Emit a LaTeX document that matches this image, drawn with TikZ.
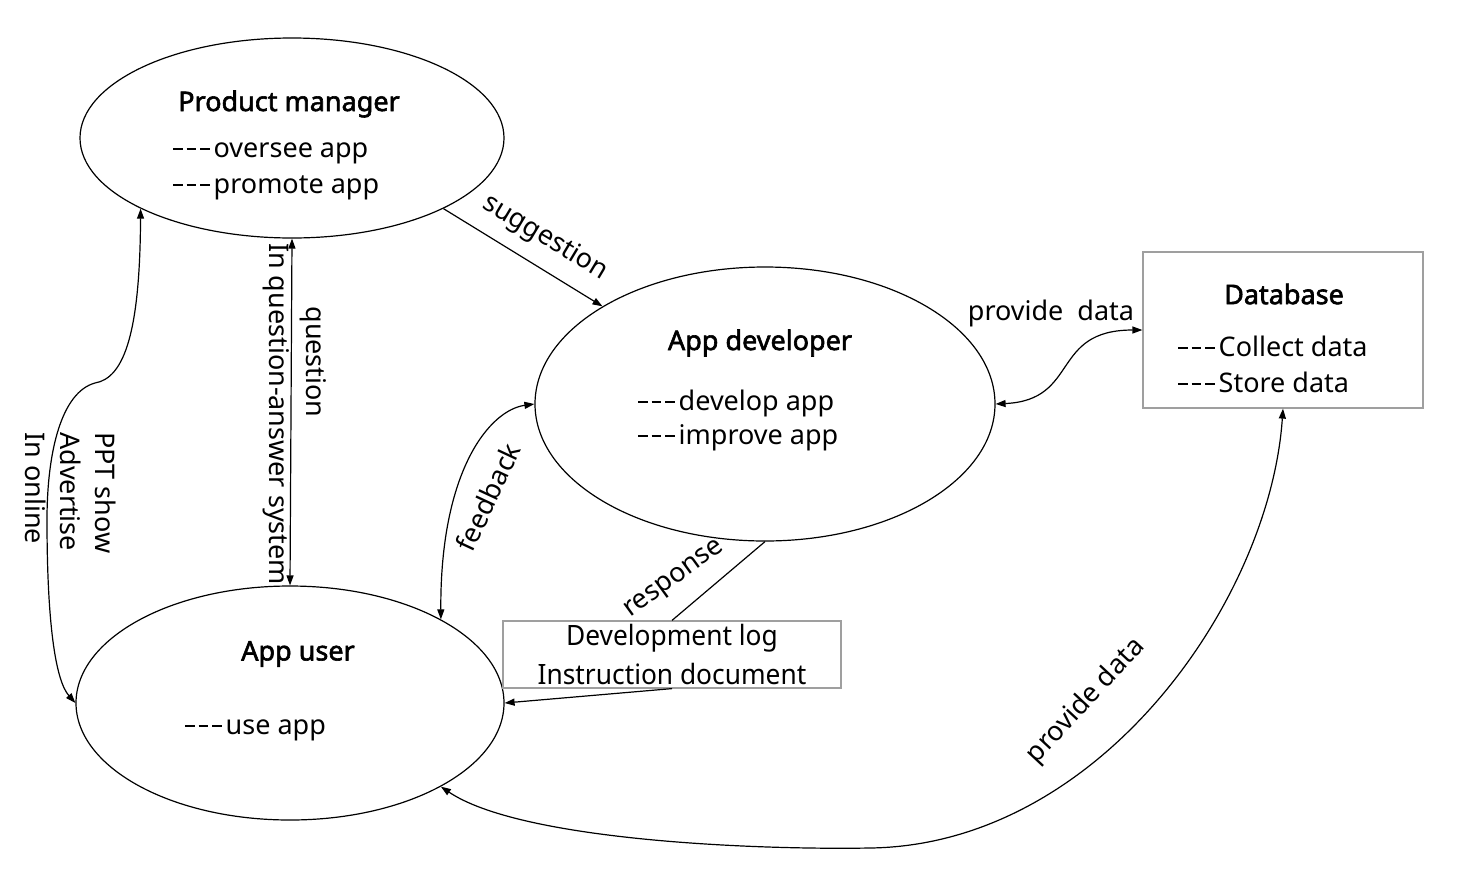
\documentclass[tikz,border=0pt]{standalone}
\usepackage{fontspec}
\setmainfont{Noto Sans}
\newfontfamily\condfont[FakeStretch=0.94]{Noto Sans}
\newfontfamily\heavyfont[FakeBold=2.2]{Noto Sans}
\usetikzlibrary{arrows.meta,shapes.geometric}
\newcommand\onedash{\rule[7.5pt]{9.5pt}{1.8pt}\hspace{4pt}}
\newcommand\threedash{\onedash\onedash\onedash}
\begin{document}
\begin{tikzpicture}[x=1pt,y=-1pt,
  every node/.style={font=\fontsize{27}{35}\selectfont},
  ell/.style={draw=black,line width=1.2pt,ellipse,inner sep=0pt},
  gbox/.style={draw=gray!75,line width=1.2pt,rectangle,inner sep=0pt},
  conn/.style={line width=1.2pt,draw=black},
  tip/.style={-{Triangle[length=10pt,width=7pt]}},
  dtip/.style={{Triangle[length=10pt,width=7pt]}-{Triangle[length=10pt,width=7pt]}},
  ttl/.style={font=\fontsize{27}{35}\heavyfont},
  lbl/.style={font=\fontsize{27}{35}\selectfont,inner sep=0pt},
  logtxt/.style={font=\fontsize{28}{35}\condfont,inner sep=0pt},
]
\useasboundingbox (0,0) rectangle (1482,884);
% nodes
\node[ell,minimum width=424pt,minimum height=200pt] (pm) at (292,138) {};
\node[ell,minimum width=460pt,minimum height=274pt] (dev) at (765,404) {};
\node[ell,minimum width=428pt,minimum height=234pt] (user) at (290,703) {};
\node[gbox,minimum width=280pt,minimum height=156pt] (db) at (1283,330) {};
\node[gbox,minimum width=338pt,minimum height=67pt] (log) at (672,654.5) {};
% texts
\node[ttl] (pmt) at (289,104) {Product manager};
\node[lbl,anchor=west] (pm1) at (173,153) {\threedash oversee app};
\node[lbl,anchor=west] (pm2) at (173,188) {\threedash promote app};
\node[ttl] (devt) at (760,343) {App developer};
\node[lbl,anchor=west] (dev1) at (638,403) {\threedash develop app};
\node[lbl,anchor=west] (dev2) at (638,438) {\threedash improve app};
\node[ttl] (usert) at (298,654) {App user};
\node[lbl,anchor=west] (user1) at (185,730) {\threedash use app};
\node[ttl] (dbt) at (1284,294) {Database};
\node[lbl,anchor=west] (db1) at (1178,346) {\threedash Collect data};
\node[lbl,anchor=west] (db2) at (1178,382) {\threedash Store data};
\node[logtxt] (log1) at (672,638) {Development log};
\node[logtxt] (log2) at (672,674) {Instruction document};
% connectors
\draw[conn,dtip] (pm.south) -- (user.north);
\draw[conn,dtip] (pm.205) .. controls (140,330) and (125,378) .. (95,383)
   .. controls (62,392) and (47,450) .. (47,520)
   .. controls (47,620) and (55,680) .. (user.180);
\draw[conn,tip] (pm.-25) -- (dev.149);
\draw[conn,dtip] (dev.0) .. controls (1080,400) and (1050,330) .. (db.west);
\draw[conn,dtip] (dev.180) .. controls (490,410) and (440,470) .. (user.29);
\draw[conn] (dev.south) -- (log.north);
\draw[conn,tip] (log.south) -- (user.0);
\draw[conn,dtip] (user.-29) .. controls (520,840) and (750,850) .. (870,848)
   .. controls (1100,845) and (1270,600) .. (db.south);
% connector labels
\node[lbl,rotate=-90] (q) at (313,362) {question};
\node[lbl,rotate=-90] (qa) at (276,414) {In question-answer system};
\node[lbl,rotate=-90,anchor=west,align=left] (ppt) at (71,432) {PPT show\\Advertise\\In online};
\node[lbl,rotate=-31] (sug) at (545,238) {suggestion};
\node[lbl] (pd1) at (1051,313) {provide\ \ data};
\node[lbl,rotate=65] (fb) at (488,497) {feedback};
\node[lbl,rotate=36] (resp) at (675,580) {response};
\node[lbl,rotate=47] (pd2) at (1086,701) {provide data};
\end{tikzpicture}
\end{document}
